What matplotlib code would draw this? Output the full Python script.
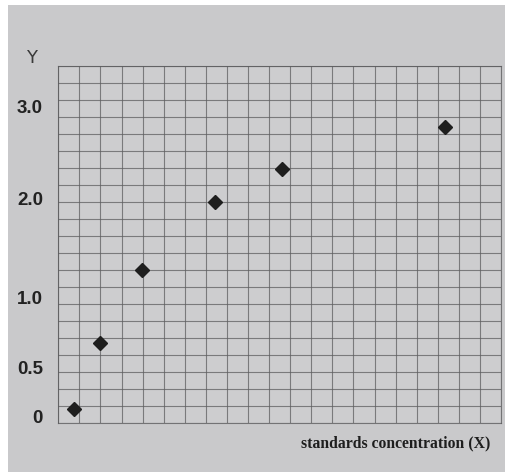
import matplotlib
matplotlib.use("Agg")
import matplotlib.pyplot as plt
from matplotlib.patches import Rectangle

# Data in grid units of the hand-ruled graph paper (21 x 21 squares)
x_points = [0.76, 1.98, 3.96, 7.43, 10.63, 18.34]
y_points = [0.84, 4.72, 9.00, 13.00, 14.93, 17.40]

# Y tick labels and where they sit on the paper (grid units)
ytick_labels = ["0", "0.5", "1.0", "2.0", "3.0"]
ytick_pos = [0.37, 3.25, 7.36, 13.2, 18.6]

n_cols = 21
n_rows = 21

fig = plt.figure(figsize=(5.06, 4.72), dpi=100)
fig.patch.set_facecolor("white")
# photo background
bg = Rectangle((8 / 506, 0), 1 - 8 / 506, 1 - 5 / 472,
               transform=fig.transFigure, facecolor="#c9c9cb",
               edgecolor="none", zorder=-10)
fig.patches.append(bg)

ax = fig.add_axes([58.3 / 506, 1 - 423.3 / 472, (501 - 58.3) / 506, (423.3 - 65.7) / 472])
ax.set_zorder(1)
ax.set_facecolor("#cdcdcf")
ax.set_xlim(0, n_cols)
ax.set_ylim(0, n_rows)

ax.set_xticks(range(n_cols + 1), minor=True)
ax.set_yticks(range(n_rows + 1), minor=True)
ax.grid(which="minor", color="#5e5e60", linewidth=0.8, alpha=0.75)
ax.set_xticks([])
ax.set_yticks(ytick_pos)
ax.set_yticklabels(ytick_labels, fontsize=13.5, fontweight="bold",
                   family="Liberation Sans", color="#222222")
ax.tick_params(axis="y", which="both", length=0, pad=11)
ax.tick_params(axis="x", which="both", length=0)
for s in ax.spines.values():
    s.set_color("#5e5e60")
    s.set_linewidth(0.8)
    s.set_alpha(0.8)

ax.plot(x_points, y_points, linestyle="none", marker="D", markersize=7,
        color="#1e1e1e", zorder=5)

fig.text(32 / 506, 1 - 58 / 472, "Y", fontsize=13, family="DejaVu Sans",
         color="#3a3a3a", ha="center", va="center")
fig.text(490 / 506, 1 - 443 / 472, "standards concentration (X)", fontsize=11.3,
         family="Liberation Serif", fontweight="bold", color="#1e1e1e",
         ha="right", va="center")

fig.savefig("out.png", dpi=100)
